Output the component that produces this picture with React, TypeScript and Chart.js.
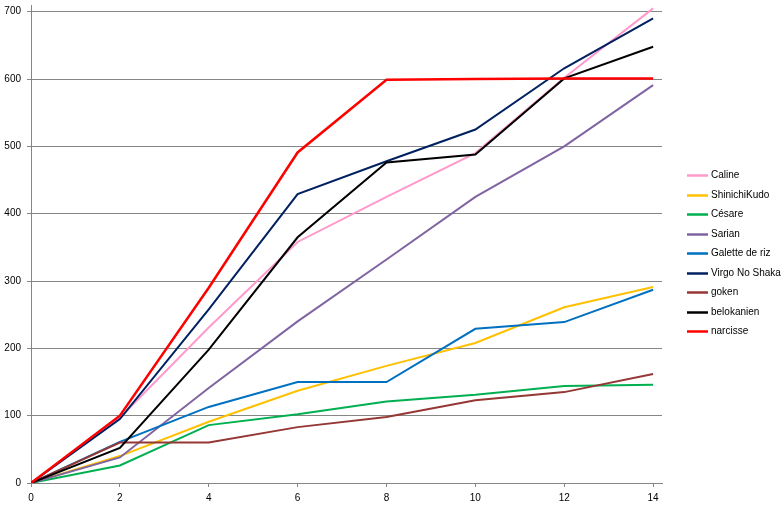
import React, { useEffect, useRef } from "react";
import { Chart, registerables } from "chart.js";

Chart.register(...registerables);

const xValues = [0, 2, 4, 6, 8, 10, 12, 14];
const yTicks = [0, 100, 200, 300, 400, 500, 600, 700];

const seriesNames = [
  "Caline",
  "ShinichiKudo",
  "Césare",
  "Sarian",
  "Galette de riz",
  "Virgo No Shaka",
  "goken",
  "belokanien",
  "narcisse",
];
const seriesColors = [
  "#FF99CC",
  "#FFC000",
  "#00B050",
  "#8064A2",
  "#0070C0",
  "#002060",
  "#953735",
  "#000000",
  "#FF0000",
];

const caline = [0, 97, 231, 358, 425, 490, 602, 705];
const shinichiKudo = [0, 40, 91, 137, 174, 208, 261, 291];
const cesare = [0, 26, 86, 102, 121, 131, 144, 146];
const sarian = [0, 38, 141, 240, 332, 425, 500, 591];
const galette = [0, 61, 113, 150, 150, 229, 239, 287];
const virgo = [0, 95, 258, 429, 478, 525, 616, 690];
const goken = [0, 60, 60, 83, 98, 123, 135, 162];
const belokanien = [0, 52, 198, 365, 476, 488, 601, 648];
const narcisse = [0, 100, 290, 491, 599, 600, 601, 601];

const seriesValues = [caline, shinichiKudo, cesare, sarian, galette, virgo, goken, belokanien, narcisse];

const FONT = "'Liberation Sans', Arial, sans-serif";
const GRID = "#868686";

const legendPlugin = {
  id: "customLegend",
  afterDraw(chart: any) {
    const ctx = chart.ctx;
    const area = chart.chartArea;
    const ds = chart.data.datasets;
    const spacing = 19.5;
    const n = ds.length;
    const centerY = 253;
    const startY = centerY - ((n - 1) * spacing) / 2;
    const x0 = area.right + 25;
    ctx.save();
    ctx.font = `10px ${FONT}`;
    ctx.textBaseline = "middle";
    ctx.textAlign = "left";
    ds.forEach((d: any, i: number) => {
      const y = Math.round(startY + i * spacing) + 0.5;
      ctx.strokeStyle = d.borderColor;
      ctx.lineWidth = 2.5;
      ctx.beginPath();
      ctx.moveTo(x0, y);
      ctx.lineTo(x0 + 21, y);
      ctx.stroke();
      ctx.fillStyle = "#000";
      ctx.fillText(d.label, x0 + 24, y);
    });
    ctx.restore();
  },
};

export default function App() {
  const ref = useRef<HTMLCanvasElement | null>(null);
  useEffect(() => {
    if (!ref.current) return;
    const datasets = seriesNames.map((name, i) => ({
      label: name,
      data: xValues.map((x, j) => ({ x, y: seriesValues[i][j] })),
      borderColor: seriesColors[i],
      backgroundColor: seriesColors[i],
      borderWidth: i === 8 ? 2.5 : 2,
      pointRadius: 0,
      tension: 0,
      order: seriesNames.length - i,
    }));
    const chart = new Chart(ref.current, {
      type: "line",
      data: { datasets },
      plugins: [legendPlugin],
      options: {
        animation: false,
        responsive: false,
        maintainAspectRatio: false,
        layout: { padding: { left: 0, top: 5, right: 121, bottom: 1 } },
        plugins: {
          legend: { display: false },
          tooltip: { enabled: false },
        },
        scales: {
          x: {
            type: "linear",
            min: 0,
            max: 14.2,
            afterBuildTicks: (scale: any) => {
              scale.ticks = xValues.map((v) => ({ value: v }));
            },
            afterFit: (scale: any) => {
              scale.paddingLeft = 0;
              scale.paddingRight = 0;
            },
            grid: {
              drawOnChartArea: false,
              drawTicks: true,
              tickLength: 4,
              color: GRID,
            },
            border: { color: GRID, width: 1 },
            ticks: {
              color: "#000",
              font: { family: FONT, size: 10 },
              padding: 5,
              maxRotation: 0,
            },
          },
          y: {
            type: "linear",
            min: 0,
            max: 710,
            afterBuildTicks: (scale: any) => {
              scale.ticks = yTicks.map((v) => ({ value: v }));
            },
            afterFit: (scale: any) => {
              scale.width = 31;
              scale.paddingTop = 0;
              scale.paddingBottom = 0;
            },
            grid: {
              color: GRID,
              lineWidth: 1,
              drawTicks: true,
              tickLength: 4,
            },
            border: { color: GRID, width: 1 },
            ticks: {
              color: "#000",
              font: { family: FONT, size: 10 },
              padding: 6,
            },
          },
        },
      },
    });
    return () => chart.destroy();
  }, []);
  return (
    <div style={{ position: "fixed", left: 0, top: 0, width: 783, height: 510, background: "#fff" }}>
      <canvas ref={ref} width={783} height={510} style={{ width: 783, height: 510, display: "block" }} />
    </div>
  );
}
